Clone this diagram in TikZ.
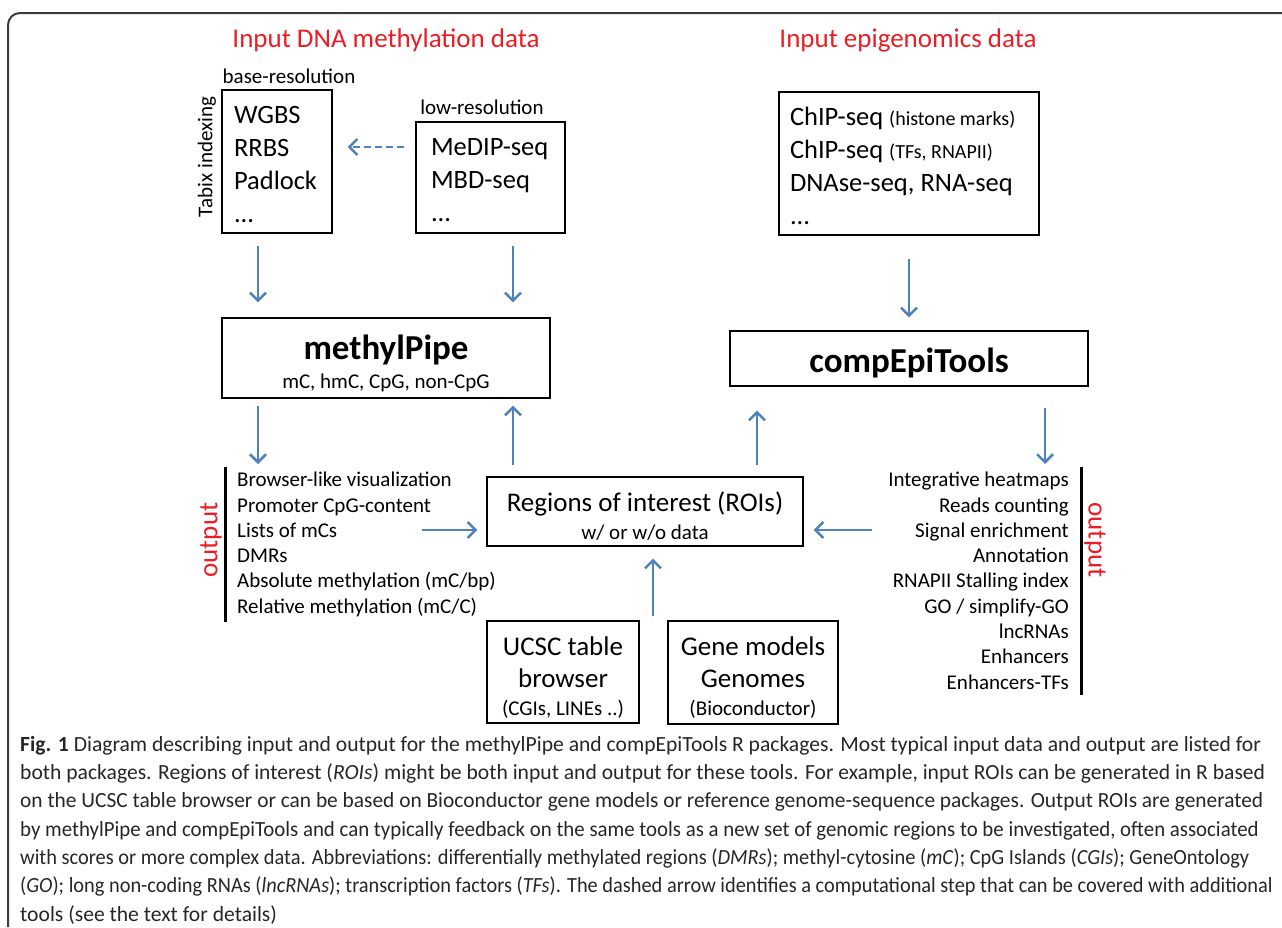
\documentclass[tikz,border=0pt]{standalone}
\usepackage{fontspec}
\usepackage{graphicx}
\setmainfont{Carlito}
\usetikzlibrary{arrows.meta,calc}
\definecolor{flowblue}{RGB}{79,129,189}
\definecolor{headred}{RGB}{235,28,36}
\definecolor{framegray}{RGB}{60,60,60}
\newcommand{\setfs}[2]{\fontsize{#1}{#2}\selectfont}
\newcommand{\lift}[1]{\rule{0pt}{#1pt}}
\newcommand{\narrowline}[2]{\scalebox{#1}[1]{#2}}

\begin{document}
\begin{tikzpicture}[x=1pt,y=-1pt,
  title/.style={text=headred,font=\setfs{27}{30},inner sep=0pt},
  note/.style={font=\setfs{21}{24},inner sep=0pt},
  listbox/.style={draw,line width=1.2pt,align=flush left,font=\setfs{26.5}{33},inner ysep=0pt},
  toolbox/.style={draw,line width=1.2pt,align=center,inner sep=0pt},
  outlist/.style={font=\setfs{21}{25.3},inner xsep=12pt,inner ysep=5pt},
  outlab/.style={text=headred,font=\setfs{27}{30},inner sep=0pt},
  bar/.style={line width=3pt},
  flow/.style={flowblue,line width=2.5pt,-{Straight Barb[length=8pt,width=16pt]}},
  dashflow/.style={flow,dash pattern=on 7pt off 4pt}]
  \useasboundingbox (0,0) rectangle (1282,927);
  % outer frame
  \draw[framegray,line width=2pt,rounded corners=12pt] (8,927) -- (8,13) -- (1282,13);

  % input DNA methylation data
  \node[title] (dnatitle) at (386,40) {Input DNA methylation data};
  \node[note] (baseres) at (289,76) {base-resolution};
  \node[note,rotate=90] (tabix) at (207,157) {Tabix indexing};
  \node[listbox,text width=86,inner xsep=12,minimum height=143] (wgbs) at (277,161.5)
    {\lift{23}WGBS\\RRBS\\Padlock\\...};
  \node[note] (lowres) at (482,107) {low-resolution};
  \node[listbox,text width=119,inner xsep=15,minimum height=111] (medip) at (490.5,177.5)
    {\lift{23}MeDIP-seq\\MBD-seq\\...};

  % input epigenomics data
  \node[title] (epititle) at (908,40) {Input epigenomics data};
  \node[listbox,text width=238,inner xsep=11,minimum height=143] (chip) at (909,163.5)
    {\lift{24}ChIP-seq {\setfs{20}{33}(histone marks)}\\ChIP-seq {\setfs{20}{33}(TFs, RNAPII)}\\DNAse-seq, RNA-seq\\...};

  % the two packages
  \node[toolbox,minimum width=328,minimum height=80,font=\setfs{21}{29}] (methylpipe) at (386,358)
    {\setfs{35}{29}\bfseries\lift{36}methylPipe\\mC, hmC, CpG, non-CpG};
  \node[toolbox,minimum width=358,minimum height=55,font=\setfs{35}{40}\bfseries] (compepi) at (909,358.5)
    {\lift{33}compEpiTools};

  % regions of interest
  \node[toolbox,minimum width=316,minimum height=69,font=\setfs{21}{28}] (rois) at (645,511.5)
    {\setfs{27}{28}\lift{28}Regions of interest (ROIs)\\w/ or w/o data};
  \node[toolbox,minimum width=152,minimum height=102,font=\setfs{27}{32}] (ucsc) at (563,672)
    {\lift{29}UCSC table\\browser\\[-4pt]\setfs{21}{30}(CGIs, LINEs ..)};
  \node[toolbox,minimum width=170,minimum height=103,font=\setfs{27}{32}] (genes) at (753,672.5)
    {\lift{29}Gene models\\Genomes\\[-4pt]\setfs{21}{30}(Bioconductor)};

  % outputs
  \node[outlist,anchor=north west,align=left] (leftout) at (225,467)
    {Browser-like visualization\\Promoter CpG-content\\Lists of mCs\\DMRs\\Absolute methylation (mC/bp)\\Relative methylation (mC/C)};
  \draw[bar] (leftout.north west) -- (leftout.south west);
  \node[outlab,rotate=90] (leftlab) at (211,540) {output};
  \node[outlist,anchor=north east,align=right] (rightout) at (1081,467)
    {Integrative heatmaps\\Reads counting\\Signal enrichment\\Annotation\\RNAPII Stalling index\\GO / simplify-GO\\lncRNAs\\Enhancers\\Enhancers-TFs};
  \draw[bar] (rightout.north east) -- (rightout.south east);
  \node[outlab,rotate=-90] (rightlab) at (1095,540) {output};

  % arrows
  \coordinate (leftfeed) at (422,530);
  \coordinate (rightfeed) at (872,530);
  \coordinate (dbfeed) at (653,616);
  \draw[dashflow,shorten <=11pt,shorten >=15pt] ($(medip.west)+(0,-30.5)$) -- ($(wgbs.east |- medip.west)+(0,-30.5)$);
  \draw[flow,shorten <=12pt,shorten >=15pt] ($(wgbs.south)+(-19,0)$) -- ($(wgbs.south |- methylpipe.north)+(-19,0)$);
  \draw[flow,shorten <=12pt,shorten >=15pt] ($(medip.south)+(22.5,0)$) -- ($(medip.south |- methylpipe.north)+(22.5,0)$);
  \draw[flow,shorten <=23pt,shorten >=13pt] (chip.south) -- (chip.south |- compepi.north);
  \draw[flow,shorten <=7pt,shorten >=3pt] ($(methylpipe.south)+(-128,0)$) -- ($(methylpipe.south |- leftout.north)+(-128,0)$);
  \draw[flow,shorten <=11pt,shorten >=7pt] ($(rois.north)+(-132,0)$) -- ($(rois.north |- methylpipe.south)+(-132,0)$);
  \draw[flow,shorten <=11pt,shorten >=24pt] ($(rois.north)+(112,0)$) -- ($(rois.north |- compepi.south)+(112,0)$);
  \draw[flow,shorten <=21pt,shorten >=3pt] ($(compepi.south)+(136,0)$) -- ($(compepi.south |- rightout.north)+(136,0)$);
  \draw[flow,shorten >=9pt] (leftfeed) -- (leftfeed -| rois.west);
  \draw[flow,shorten >=10pt] (rightfeed) -- (rightfeed -| rois.east);
  \draw[flow,shorten >=12pt] (dbfeed) -- (dbfeed |- rois.south);

  % caption
  \node[anchor=north west,align=left,inner sep=0pt,text=black!85,font=\setfs{21.6}{28.3}] (caption) at (20,736)
    {\textbf{Fig. 1} Diagram describing input and output for the methylPipe and compEpiTools R packages. Most typical input data and output are listed for\\
     both packages. Regions of interest (\textit{ROIs}) might be both input and output for these tools. For example, input ROIs can be generated in R based\\
     \narrowline{0.99}{on the UCSC table browser or can be based on Bioconductor gene models or reference genome-sequence packages. Output ROIs are generated}\\
     \narrowline{0.965}{by methylPipe and compEpiTools and can typically feedback on the same tools as a new set of genomic regions to be investigated, often associated}\\
     \narrowline{0.945}{with scores or more complex data. Abbreviations: differentially methylated regions (\textit{DMRs}); methyl-cytosine (\textit{mC}); CpG Islands (\textit{CGIs}); GeneOntology}\\
     \narrowline{0.943}{(\textit{GO}); long non-coding RNAs (\textit{lncRNAs}); transcription factors (\textit{TFs}). The dashed arrow identifies a computational step that can be covered with additional}\\
     tools (see the text for details)};
\end{tikzpicture}
\end{document}
